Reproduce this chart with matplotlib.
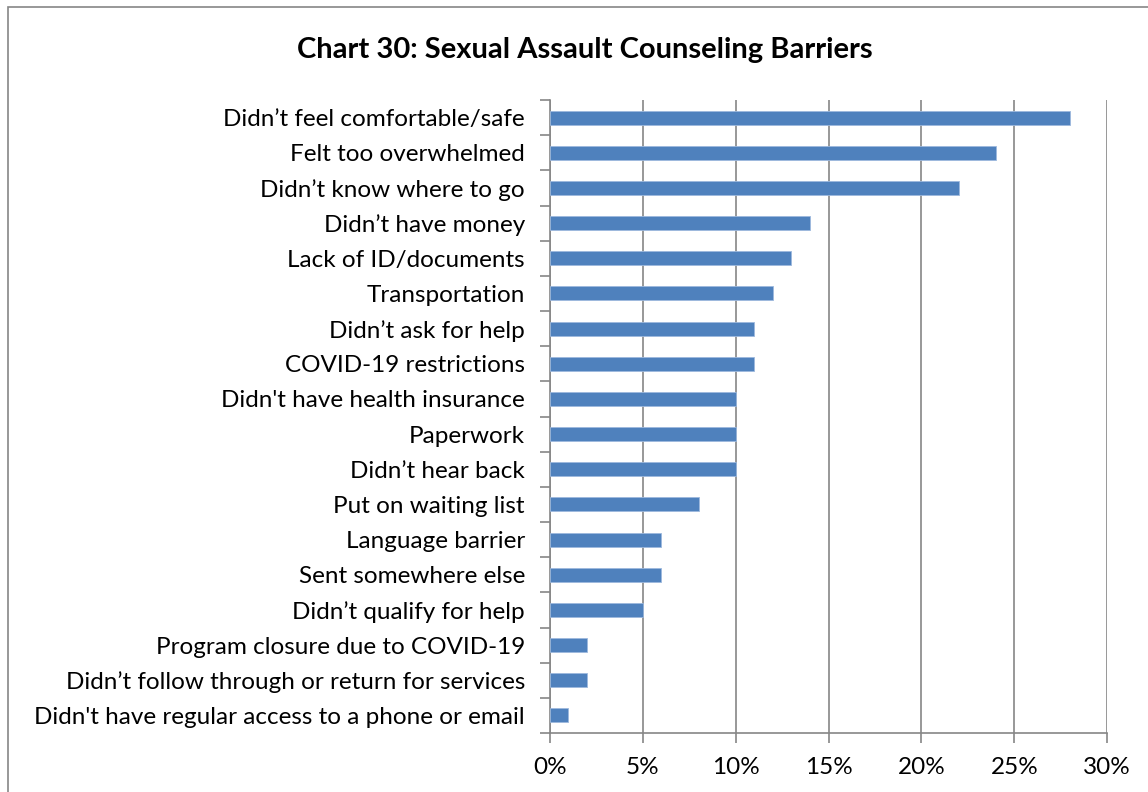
import matplotlib.pyplot as plt
from matplotlib.patches import Rectangle
from matplotlib.ticker import FuncFormatter, FixedLocator
import numpy as np

plt.rcParams['font.family'] = ['Lato', 'DejaVu Sans']

barriers = [
    "Didn’t feel comfortable/safe",
    "Felt too overwhelmed",
    "Didn’t know where to go",
    "Didn’t have money",
    "Lack of ID/documents",
    "Transportation",
    "Didn’t ask for help",
    "COVID-19 restrictions",
    "Didn't have health insurance",
    "Paperwork",
    "Didn’t hear back",
    "Put on waiting list",
    "Language barrier",
    "Sent somewhere else",
    "Didn’t qualify for help",
    "Program closure due to COVID-19",
    "Didn’t follow through or return for services",
    "Didn't have regular access to a phone or email",
]
percents = [28, 24, 22, 14, 13, 12, 11, 11, 10, 10, 10, 8, 6, 6, 5, 2, 2, 1]

fig = plt.figure(figsize=(11.48, 7.92), dpi=100)
ax = fig.add_axes([0.479, 0.0745, 0.4855, 0.7992])

# outer chart frame, cut off at the right and bottom
fig.patches.append(Rectangle((8 / 1148, -0.1), 1.2, 1 - 7 / 792 + 0.1,
                             transform=fig.transFigure, fill=False,
                             edgecolor='#868686', linewidth=1.2))

y = np.arange(len(barriers))
ax.barh(y, percents, height=0.4, color='#4F81BD', edgecolor='#9DB9DD',
        linewidth=0.6, zorder=3)

ax.set_xlim(0, 30)
ax.set_ylim(len(barriers) - 0.5, -0.5)
ax.set_xticks(np.arange(0, 31, 5))
ax.xaxis.set_major_formatter(FuncFormatter(lambda v, p: f'{v:.0f}%'))
ax.grid(axis='x', color='#868686', linewidth=1.2, zorder=0)

# category labels in the middle of each band, tick marks on the band edges
ax.set_yticks(y)
ax.set_yticklabels(barriers)
ax.yaxis.set_minor_locator(FixedLocator(np.arange(-0.5, len(barriers), 1)))
ax.tick_params(axis='y', which='major', length=0, pad=18, labelsize=17.5)
ax.tick_params(axis='y', which='minor', length=7, width=1.2, color='#868686')
ax.tick_params(axis='x', length=7, width=1.2, color='#868686', pad=10,
               labelsize=17.5)

for side in ['top', 'right']:
    ax.spines[side].set_visible(False)
for side in ['left', 'bottom']:
    ax.spines[side].set_color('#868686')
    ax.spines[side].set_linewidth(1.2)

fig.text(0.509, 0.937, 'Chart 30: Sexual Assault Counseling Barriers',
         ha='center', va='center', fontsize=21, fontweight='bold')

fig.savefig('out.png', dpi=100)
